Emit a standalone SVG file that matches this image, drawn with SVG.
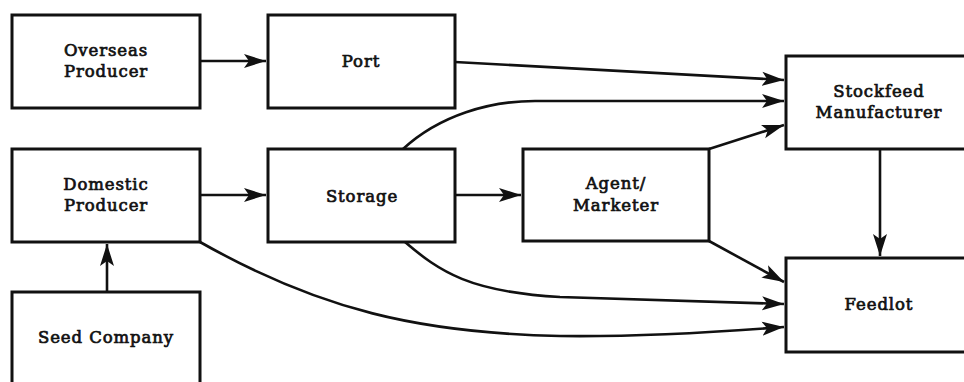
<svg xmlns="http://www.w3.org/2000/svg" width="964" height="382" viewBox="0 0 964 382">
<style>
.box{fill:#fff;stroke:#111;stroke-width:3}
.t{font-family:"DejaVu Serif","Liberation Serif",serif;font-weight:normal;font-size:16.5px;letter-spacing:0.9px;fill:#111;stroke:#111;stroke-width:0.7;text-anchor:middle}
.c{fill:none;stroke:#111;stroke-width:2.6}
</style>
<defs>
<marker id="ah" markerUnits="userSpaceOnUse" markerWidth="24" markerHeight="16" refX="22" refY="7" orient="auto" viewBox="0 0 24 14">
<path d="M0,0 L22,7 L0,14 L5,7 Z" fill="#111"/>
</marker>
</defs>
<rect width="964" height="382" fill="#fff"/>
<g id="connectors">
<path class="c" d="M200,61 L266,61" marker-end="url(#ah)"/>
<path class="c" d="M200,195 L266,195" marker-end="url(#ah)"/>
<path class="c" d="M455,195 L521,195" marker-end="url(#ah)"/>
<path class="c" d="M107,292 L107,244" marker-end="url(#ah)"/>
<path class="c" d="M880,149 L880,256" marker-end="url(#ah)"/>
<path class="c" d="M455,62 L784,80" marker-end="url(#ah)"/>
<path class="c" d="M403,149 C440,115 490,101 535,101 L784,101" marker-end="url(#ah)"/>
<path class="c" d="M709,149 L784,125" marker-end="url(#ah)"/>
<path class="c" d="M709,241 L784,282" marker-end="url(#ah)"/>
<path class="c" d="M405,242 C440,272 470,292 560,297 L784,304" marker-end="url(#ah)"/>
<path class="c" d="M200,242 C320,310 420,333 560,336 C640,337 720,332 784,327" marker-end="url(#ah)"/>
</g>
<g id="overseas"><rect class="box" x="12" y="15" width="188" height="93"/><text class="t" x="106" y="56">Overseas</text><text class="t" x="106" y="77">Producer</text></g>
<g id="port"><rect class="box" x="268" y="15" width="187" height="93"/><text class="t" x="361" y="67">Port</text></g>
<g id="domestic"><rect class="box" x="12" y="149" width="188" height="93"/><text class="t" x="106" y="190">Domestic</text><text class="t" x="106" y="211">Producer</text></g>
<g id="storage"><rect class="box" x="268" y="149" width="187" height="93"/><text class="t" x="362" y="202">Storage</text></g>
<g id="seed"><rect class="box" x="12" y="292" width="188" height="100"/><text class="t" x="106" y="343">Seed Company</text></g>
<g id="agent"><rect class="box" x="523" y="149" width="186" height="92"/><text class="t" x="616" y="189">Agent/</text><text class="t" x="616" y="211">Marketer</text></g>
<g id="stockfeed"><rect class="box" x="786" y="56" width="188" height="93"/><text class="t" x="879" y="97">Stockfeed</text><text class="t" x="879" y="118">Manufacturer</text></g>
<g id="feedlot"><rect class="box" x="786" y="258" width="188" height="94"/><text class="t" x="879" y="310">Feedlot</text></g>
</svg>
